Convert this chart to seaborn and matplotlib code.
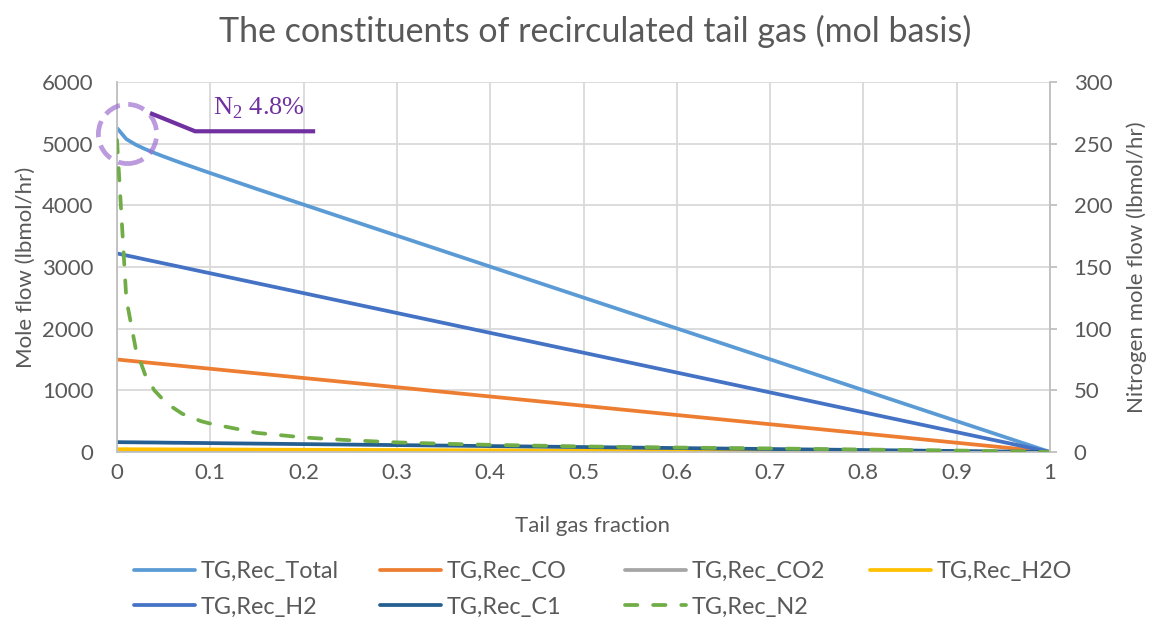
import numpy as np
import pandas as pd
import matplotlib
matplotlib.use("Agg")
import matplotlib.pyplot as plt
import seaborn as sns
from matplotlib.lines import Line2D
from matplotlib.patches import Ellipse
from matplotlib.ticker import FuncFormatter

# ---------------- data ----------------
tail_gas_fraction = [0, 0.01, 0.02, 0.03, 0.04, 0.05, 0.06, 0.07, 0.08, 0.09, 0.1,
                     0.15, 0.2, 0.25, 0.3, 0.35, 0.4, 0.5, 0.6, 0.7, 0.8, 0.9, 1.0]
tg_total = [5254, 5074, 4984, 4913, 4850, 4792, 4736, 4681, 4628, 4575, 4523,
            4265, 4012, 3760, 3508, 3257, 3006, 2504, 2004, 1503, 1002, 501, 0]
tg_co = [1500, 1485, 1470, 1455, 1440, 1425, 1410, 1395, 1380, 1365, 1350,
         1275, 1200, 1125, 1050, 975, 900, 750, 600, 450, 300, 150, 0]
tg_co2 = [12, 12, 12, 12, 12, 11, 11, 11, 11, 11, 11,
          10, 10, 9, 8, 8, 7, 6, 5, 4, 2, 1, 0]
tg_h2o = [45, 45, 44, 44, 43, 43, 42, 42, 41, 41, 41,
          38, 36, 34, 32, 29, 27, 23, 18, 14, 9, 5, 0]
tg_h2 = [3220, 3188, 3156, 3123, 3091, 3059, 3027, 2995, 2962, 2930, 2898,
         2737, 2576, 2415, 2254, 2093, 1932, 1610, 1288, 966, 644, 322, 0]
tg_c1 = [160, 158, 157, 155, 154, 152, 150, 149, 147, 146, 144,
         136, 128, 120, 112, 104, 96, 80, 64, 48, 32, 16, 0]
tg_n2 = [253, 124, 84, 63, 50, 42, 36, 31, 28, 25, 23,
         15.5, 11.8, 9.5, 7.8, 6.7, 5.8, 4.5, 3.6, 2.9, 2.0, 1.2, 0]

series_labels = ["TG,Rec_Total", "TG,Rec_CO", "TG,Rec_CO2", "TG,Rec_H2O",
                 "TG,Rec_H2", "TG,Rec_C1"]
n2_label = "TG,Rec_N2"
x_ticks = [0, 0.1, 0.2, 0.3, 0.4, 0.5, 0.6, 0.7, 0.8, 0.9, 1.0]
y_ticks = [0, 1000, 2000, 3000, 4000, 5000, 6000]
y2_ticks = [0, 50, 100, 150, 200, 250, 300]

# callout (annotation) positions in data coords
callout_x = [0.0354, 0.0837, 0.2124]
callout_y = [5497, 5201, 5201]

df = pd.DataFrame({
    "x": tail_gas_fraction,
    "TG,Rec_Total": tg_total,
    "TG,Rec_CO": tg_co,
    "TG,Rec_CO2": tg_co2,
    "TG,Rec_H2O": tg_h2o,
    "TG,Rec_H2": tg_h2,
    "TG,Rec_C1": tg_c1,
    "TG,Rec_N2": tg_n2,
})

colors = {
    "TG,Rec_Total": "#5B9BD5",
    "TG,Rec_CO": "#ED7D31",
    "TG,Rec_CO2": "#A5A5A5",
    "TG,Rec_H2O": "#FFC000",
    "TG,Rec_H2": "#4472C4",
    "TG,Rec_C1": "#255E91",
    "TG,Rec_N2": "#70AD47",
}

# ---------------- style ----------------
sns.set_theme(style="white")
plt.rcParams["font.family"] = ["Lato", "DejaVu Sans"]
TXT = "#595959"
GRID = "#D9D9D9"
SPINE = "#BFBFBF"
LW = 2.7
FS = 16

W, H = 1153, 626
fig = plt.figure(figsize=(W / 100, H / 100), dpi=100)
ax = fig.add_axes([117 / W, 1 - 452 / H, (1050 - 117) / W, (452 - 82) / H])

for lab in series_labels:
    sns.lineplot(data=df, x="x", y=lab, ax=ax, color=colors[lab], lw=LW,
                 legend=False, solid_capstyle="butt")

ax.set_xlim(0, 1)
ax.set_ylim(0, 6000)
ax.set_xticks(x_ticks)
ax.set_yticks(y_ticks)
ax.xaxis.set_major_formatter(FuncFormatter(lambda v, p: f"{v:g}"))
ax.grid(True, color=GRID, lw=1.3)
ax.set_axisbelow(True)
for s in ["top", "right"]:
    ax.spines[s].set_visible(False)
for s in ["left", "bottom"]:
    ax.spines[s].set_color(SPINE)
    ax.spines[s].set_linewidth(1.3)
ax.tick_params(axis="both", length=0, labelsize=FS, labelcolor=TXT)
ax.tick_params(axis="y", pad=17)
ax.tick_params(axis="x", pad=8)
ax.set_xlabel("Tail gas fraction", fontsize=FS, color=TXT, labelpad=24)
ax.xaxis.label.set_x(0.51)
ax.set_ylabel("Mole flow (lbmol/hr)", fontsize=FS, color=TXT, labelpad=4)

ax2 = ax.twinx()
sns.lineplot(data=df, x="x", y=n2_label, ax=ax2, color=colors[n2_label], lw=LW,
             legend=False)
n2_line = ax2.get_lines()[0]
n2_line.set_dashes([3.3, 4.2])
n2_line.set_dash_capstyle("round")
ax2.set_ylim(0, 300)
ax2.set_yticks(y2_ticks)
ax2.grid(False)
for s in ["top", "left", "bottom"]:
    ax2.spines[s].set_visible(False)
ax2.spines["right"].set_color(SPINE)
ax2.spines["right"].set_linewidth(1.3)
ax2.tick_params(axis="y", length=5, width=1.3, color=SPINE, labelsize=FS,
                labelcolor=TXT, pad=12)
ax2.set_ylabel("Nitrogen mole flow (lbmol/hr)", fontsize=FS, color=TXT,
               labelpad=10)

# ---------------- annotation ----------------
circ = Ellipse((0.0113, 5157), width=0.0625, height=960, transform=ax.transData,
               fill=False, edgecolor="#9E6FCF", alpha=0.7, lw=3.4,
               linestyle=(0, (3.5, 1.8)), clip_on=False, zorder=10)
ax2.add_patch(circ)
ax2.add_line(Line2D(callout_x, callout_y, transform=ax.transData, color="#7030A0",
                    lw=3, solid_capstyle="butt", clip_on=False, zorder=10))
ax2.text(0.103, 5465, r"N$_\mathregular{2}$ 4.8%", transform=ax.transData,
         ha="left", va="baseline", fontsize=19, color="#7030A0",
         family=["Liberation Serif", "DejaVu Serif"], zorder=11)

# ---------------- title ----------------
fig.text(595 / W, 1 - 31 / H, "The constituents of recirculated tail gas (mol basis)",
         ha="center", va="center", fontsize=24.5, color=TXT)

# ---------------- legend (4 columns, row-major like Excel) ----------------
handles = {lab: Line2D([], [], color=colors[lab], lw=LW) for lab in series_labels}
h_n2 = Line2D([], [], color=colors[n2_label], lw=LW, dashes=[3.3, 4.2],
              dash_capstyle="round")
handles[n2_label] = h_n2
columns = [["TG,Rec_Total", "TG,Rec_H2"], ["TG,Rec_CO", "TG,Rec_C1"],
           ["TG,Rec_CO2", "TG,Rec_N2"], ["TG,Rec_H2O"]]
col_x = [134, 380, 625, 870]
for cx, col in zip(col_x, columns):
    fig.legend([handles[c] for c in col], col, loc="upper left",
               bbox_to_anchor=(cx / W, 1 - 561 / H), frameon=False,
               borderpad=0, borderaxespad=0, handlelength=2.6,
               handletextpad=0.25, labelspacing=0.62, fontsize=16.8,
               labelcolor=TXT)

fig.savefig("out.png", dpi=100)
